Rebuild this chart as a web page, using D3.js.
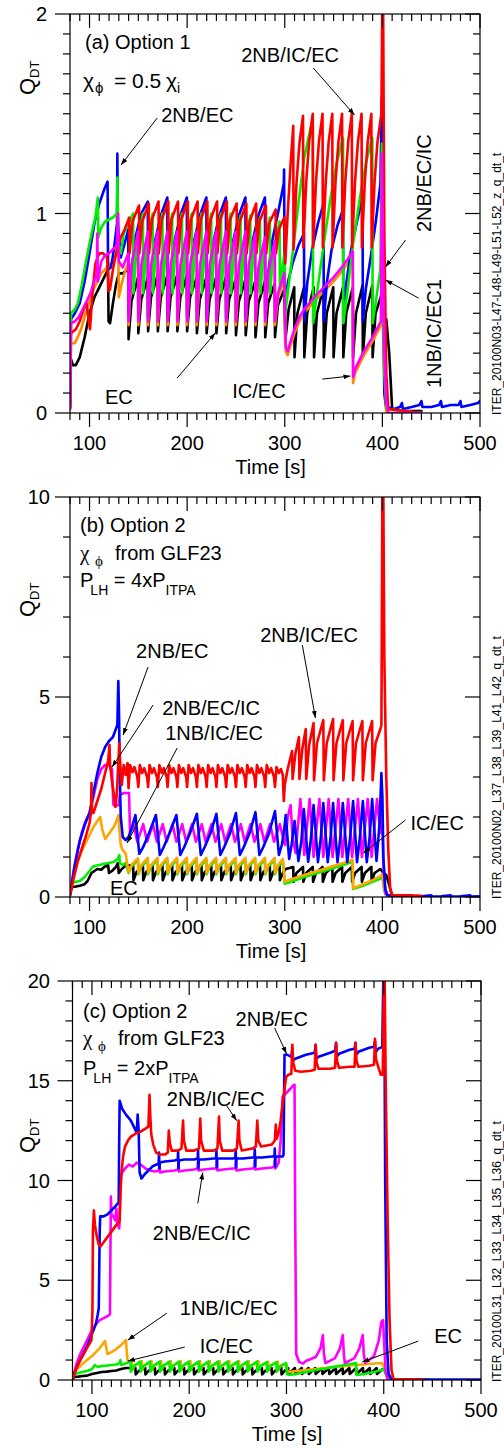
<!DOCTYPE html>
<html><head><meta charset="utf-8">
<script src="https://cdn.jsdelivr.net/npm/d3@7"></script>
<style>
body{margin:0;background:#fff}
svg{display:block}
text{font-family:"Liberation Sans",Arial,Helvetica,sans-serif;fill:#000}
</style></head><body>
<svg id="chart" width="504" height="1448"></svg>
<script>
// ---------------- DATA (time [s], Q_DT) ----------------
const xMajorTicks = [100,200,300,400,500];
const xTickLabels = ["100","200","300","400","500"];
const yTicksA = [0,1,2], yTicksB = [0,5,10], yTicksC = [0,5,10,15,20];

// Panel (a)
const A_black = [[80,0.02],[81,0.27],[83,0.24],[86,0.24],[90,0.28],[95,0.38],[100,0.5],[105,0.58],[110,0.63],[115,0.68],[119,0.72],[119.5,0.46],[121,0.45],[124,0.55],[127,0.64],[130,0.7],[134,0.7],[139.7,0.72],[140,0.37],[143,0.56],[149.7,0.68],[150,0.40],[153,0.57],[159.7,0.68],[160,0.41],[163,0.58],[169.7,0.69],[170,0.41],[173,0.58],[179.7,0.69],[180,0.41],[183,0.58],[189.7,0.69],[190,0.41],[193,0.58],[199.7,0.69],[200,0.41],[203,0.58],[209.7,0.68],[210,0.40],[213,0.57],[219.7,0.68],[220,0.40],[223,0.57],[229.7,0.68],[230,0.40],[233,0.57],[239.7,0.68],[240,0.40],[243,0.57],[249.7,0.67],[250,0.39],[253,0.56],[259.7,0.67],[260,0.39],[263,0.56],[269.7,0.66],[270,0.38],[273,0.55],[279.7,0.66],[280,0.38],[283,0.55],[289.7,0.65],[290,0.38],[293,0.54],[299.5,0.62],[300.5,0.36],[304,0.52],[309.7,0.63],[310,0.28],[313,0.5],[319.7,0.63],[320,0.28],[323,0.5],[329.7,0.63],[330,0.28],[333,0.5],[339.7,0.63],[340,0.28],[343,0.5],[349.7,0.63],[350,0.28],[353,0.5],[359.7,0.63],[360,0.28],[363,0.5],[369.7,0.63],[370,0.28],[373,0.5],[379.7,0.64],[380,0.28],[383,0.5],[389.7,0.64],[390,0.28],[393,0.5],[399.5,0.6],[401,0.47],[404,0.47],[407,0.3],[410,0.02],[420,0.01],[440,0.01]];
const A_orange = [[80,0.02],[81,0.35],[85,0.35],[88,0.38],[92,0.43],[96,0.5],[100,0.56],[104,0.62],[108,0.66],[112,0.7],[116,0.72],[120,0.74],[124,0.76],[128,0.8],[129.5,0.82],[130,0.58],[133,0.65],[137,0.72],[139.7,0.75],[140,0.44],[143,0.7],[149.7,0.87],[150,0.44],[153,0.7],[159.7,0.87],[160,0.44],[163,0.7],[169.7,0.87],[170,0.44],[173,0.7],[179.7,0.87],[180,0.44],[183,0.7],[189.7,0.87],[190,0.44],[193,0.7],[199.7,0.87],[200,0.44],[203,0.7],[209.7,0.87],[210,0.44],[213,0.7],[219.7,0.87],[220,0.44],[223,0.7],[229.7,0.87],[230,0.44],[233,0.7],[239.7,0.87],[240,0.44],[243,0.7],[249.7,0.87],[250,0.44],[253,0.7],[259.7,0.87],[260,0.44],[263,0.7],[269.7,0.87],[270,0.44],[273,0.7],[279.7,0.85],[280,0.44],[283,0.68],[289.7,0.83],[290,0.44],[293,0.58],[299.5,0.67],[301,0.31],[303,0.29],[306,0.34],[310,0.4],[315,0.46],[320,0.5],[330,0.56],[340,0.61],[350,0.66],[360,0.72],[369.7,0.79],[370,0.15],[372,0.2],[380,0.28],[390,0.36],[398.5,0.44],[400,0.6],[402,0.1],[404,0.0],[440,0.0]];
const A_magenta = [[80,0.02],[81,0.45],[85,0.46],[89,0.48],[93,0.52],[97,0.56],[101,0.6],[104,0.65],[107.5,0.7],[108,0.9],[108.5,0.66],[112,0.76],[116,0.79],[120,0.8],[124,0.82],[128,0.84],[129.3,1.0],[130,0.76],[134,0.73],[139.7,0.8],[140,0.46],[143,0.74],[149.7,0.91],[150,0.46],[153,0.74],[159.7,0.91],[160,0.46],[163,0.74],[169.7,0.91],[170,0.46],[173,0.74],[179.7,0.91],[180,0.46],[183,0.74],[189.7,0.91],[190,0.46],[193,0.74],[199.7,0.91],[200,0.46],[203,0.74],[209.7,0.91],[210,0.46],[213,0.74],[219.7,0.91],[220,0.46],[223,0.74],[229.7,0.91],[230,0.46],[233,0.74],[239.7,0.91],[240,0.46],[243,0.74],[249.7,0.91],[250,0.46],[253,0.74],[259.7,0.91],[260,0.46],[263,0.74],[269.7,0.9],[270,0.46],[273,0.73],[279.7,0.88],[280,0.46],[283,0.7],[289.7,0.86],[290,0.46],[293,0.6],[299.5,0.7],[301,0.33],[303,0.31],[306,0.36],[310,0.42],[315,0.48],[320,0.52],[330,0.58],[340,0.63],[350,0.68],[360,0.74],[369.7,0.81],[370,0.18],[372,0.22],[380,0.3],[390,0.38],[398.5,0.46],[399.5,1.3],[400.5,0.9],[402,0.3],[404,0.05],[406,0.0],[440,0.0]];
const A_green = [[80,0.04],[81,0.5],[85,0.52],[88,0.55],[92,0.64],[96,0.75],[100,0.85],[103,0.92],[106,0.98],[108.5,1.08],[109,0.88],[112,0.93],[116,0.96],[120,0.97],[124,0.98],[128,1.0],[128.6,1.18],[129.3,0.85],[132,0.8],[135,0.9],[144.7,1.0],[145,0.6],[148,0.82],[154.7,1.0],[155,0.6],[158,0.82],[164.7,1.0],[165,0.6],[168,0.82],[174.7,1.0],[175,0.6],[178,0.82],[184.7,1.0],[185,0.6],[188,0.82],[194.7,1.0],[195,0.6],[198,0.82],[204.7,1.0],[205,0.6],[208,0.82],[214.7,1.0],[215,0.6],[218,0.82],[224.7,1.0],[225,0.6],[228,0.82],[234.7,1.0],[235,0.6],[238,0.82],[244.7,1.0],[245,0.6],[248,0.82],[254.7,0.99],[255,0.6],[258,0.81],[264.7,0.99],[265,0.6],[268,0.81],[274.7,0.98],[275,0.6],[278,0.8],[284.7,0.98],[285,0.6],[288,0.8],[294.7,0.96],[295,0.62],[298,0.75],[300,0.8],[300.5,0.5],[303,0.6],[308,0.8],[314,1.05],[320,1.28],[328.7,1.48],[329,0.45],[333,0.6],[340,0.85],[347,1.08],[353,1.25],[359.7,1.38],[360,0.45],[364,0.6],[370,0.85],[377,1.08],[383,1.25],[389.7,1.38],[390,0.45],[393,0.55],[398,0.72],[399.6,1.35],[400.5,0.7],[402,0.2],[404,0.02],[440,0.0]];
const A_red = [[80,0.03],[81,0.4],[86,0.42],[90,0.46],[94,0.52],[97,0.55],[99.5,0.45],[100.5,0.42],[103,0.6],[106,0.75],[110,0.8],[114,0.8],[118,0.78],[119.5,0.61],[121,0.62],[124,0.72],[128,0.82],[132,0.88],[136,0.92],[140.7,0.98],[141,0.8],[144,0.96],[150.7,1.04],[151,0.8],[154,0.96],[160.7,1.05],[161,0.8],[164,0.97],[170.7,1.06],[171,0.8],[174,0.97],[180.7,1.06],[181,0.8],[184,0.97],[190.7,1.06],[191,0.8],[194,0.97],[200.7,1.06],[201,0.8],[204,0.97],[210.7,1.06],[211,0.8],[214,0.97],[220.7,1.06],[221,0.8],[224,0.97],[230.7,1.06],[231,0.8],[234,0.97],[240.7,1.06],[241,0.8],[244,0.97],[250.7,1.05],[251,0.8],[254,0.96],[260.7,1.05],[261,0.8],[264,0.96],[270.7,1.05],[271,0.8],[274,0.96],[280.7,1.04],[281,0.8],[284,0.95],[290.7,1.02],[291,0.8],[294,0.92],[299.5,0.98],[300.5,0.75],[303,1.0],[306,1.25],[308.7,1.44],[309,0.82],[312,1.15],[315,1.35],[318.7,1.49],[319,0.83],[322,1.16],[325,1.36],[328.7,1.5],[329,0.83],[332,1.16],[335,1.36],[338.7,1.5],[339,0.83],[342,1.16],[345,1.36],[348.7,1.5],[349,0.83],[352,1.16],[355,1.36],[358.7,1.5],[359,0.83],[362,1.16],[365,1.36],[368.7,1.5],[369,0.83],[372,1.16],[375,1.36],[378.7,1.5],[379,0.83],[382,1.16],[385,1.36],[388.7,1.5],[389,0.83],[392,1.16],[395,1.36],[399,1.5],[399.8,2.0],[400.8,2.0],[402,0.9],[404,0.2],[406,0.02],[440,0.0]];
const A_blue = [[80,0.03],[81,0.47],[85,0.5],[90,0.55],[95,0.66],[100,0.8],[105,0.95],[110,1.05],[115,1.12],[118.5,1.16],[119,0.72],[122,0.73],[125,0.82],[128.2,0.95],[128.5,1.3],[129,0.95],[132,0.78],[136,0.85],[139.7,0.92],[140,0.5],[143,0.72],[147,0.88],[153,1.0],[159.7,1.06],[160,0.48],[163,0.7],[167,0.86],[173,0.99],[179.7,1.08],[180,0.48],[183,0.7],[187,0.86],[193,0.99],[199.7,1.08],[200,0.48],[203,0.7],[207,0.86],[213,0.99],[219.7,1.08],[220,0.48],[223,0.7],[227,0.86],[233,0.99],[239.7,1.08],[240,0.48],[243,0.7],[247,0.86],[253,0.99],[259.7,1.08],[260,0.48],[263,0.7],[267,0.86],[273,0.99],[279.7,1.08],[280,0.48],[283,0.7],[287,0.86],[293,1.0],[299,1.15],[299.3,1.22],[300,0.55],[303,0.65],[308,0.75],[314,0.84],[319.7,0.9],[320,0.46],[323,0.65],[328,0.82],[334,0.95],[339.7,1.05],[340,0.46],[343,0.65],[348,0.82],[354,0.94],[359.7,1.02],[360,0.46],[363,0.65],[368,0.82],[374,0.96],[379.7,1.08],[380,0.46],[383,0.62],[388,0.78],[393,0.95],[398,1.15],[399.5,1.58],[400.5,1.0],[402,0.1],[404,0.03],[412,0.02],[418,0.03],[420,0.05],[421,0.02],[430,0.03],[438,0.04],[440,0.06],[441,0.03],[450,0.03],[458,0.04],[460,0.06],[461,0.03],[470,0.04],[478,0.04],[480,0.06],[481,0.03],[490,0.04],[498,0.05],[500,0.06]];

// Panel (b)
const B_black = [[80,0.05],[82,0.25],[86,0.26],[90,0.28],[95,0.32],[98,0.4],[100,0.5],[102,0.6],[105,0.65],[108,0.7],[112,0.68],[115,0.75],[119,0.8],[120,0.6],[123,0.65],[127,0.75],[129,0.85],[130,0.6],[133,0.7],[137,0.78],[144.7,0.8],[145,0.42],[148,0.62],[154.7,0.78],[155,0.42],[158,0.62],[164.7,0.78],[165,0.42],[168,0.62],[174.7,0.78],[175,0.42],[178,0.62],[184.7,0.78],[185,0.42],[188,0.62],[194.7,0.78],[195,0.42],[198,0.62],[204.7,0.78],[205,0.42],[208,0.62],[214.7,0.78],[215,0.42],[218,0.62],[224.7,0.78],[225,0.42],[228,0.62],[234.7,0.78],[235,0.42],[238,0.62],[244.7,0.78],[245,0.42],[248,0.62],[254.7,0.78],[255,0.42],[258,0.62],[264.7,0.78],[265,0.42],[268,0.62],[274.7,0.78],[275,0.42],[278,0.62],[284.7,0.78],[285,0.42],[288,0.62],[294.7,0.78],[295,0.42],[298,0.6],[301,0.7],[308.7,0.75],[309,0.38],[312,0.6],[318.7,0.75],[319,0.38],[322,0.6],[328.7,0.75],[329,0.38],[332,0.6],[338.7,0.75],[339,0.38],[342,0.6],[348.7,0.75],[349,0.38],[352,0.6],[358.7,0.75],[359,0.38],[362,0.6],[368.7,0.75],[369,0.38],[372,0.6],[378.7,0.75],[379,0.38],[382,0.6],[388.7,0.75],[389,0.38],[392,0.6],[398,0.7],[401,0.6],[404,0.55],[407,0.3],[410,0.03],[440,0.02]];
const B_green = [[80,0.05],[82,0.35],[86,0.38],[90,0.4],[95,0.5],[100,0.65],[103,0.75],[106,0.78],[110,0.8],[115,0.83],[120,0.85],[125,0.88],[129,0.95],[130.5,1.05],[131,0.85],[134,0.8],[137,0.85],[140,0.6],[143,0.76],[149.7,0.93],[150,0.57],[153,0.76],[159.7,0.93],[160,0.57],[163,0.76],[169.7,0.93],[170,0.57],[173,0.76],[179.7,0.93],[180,0.57],[183,0.76],[189.7,0.93],[190,0.57],[193,0.76],[199.7,0.93],[200,0.57],[203,0.76],[209.7,0.93],[210,0.57],[213,0.76],[219.7,0.93],[220,0.57],[223,0.76],[229.7,0.93],[230,0.57],[233,0.76],[239.7,0.93],[240,0.57],[243,0.76],[249.7,0.93],[250,0.57],[253,0.76],[259.7,0.93],[260,0.57],[263,0.76],[269.7,0.93],[270,0.57],[273,0.76],[279.7,0.93],[280,0.57],[283,0.76],[289.7,0.93],[290,0.57],[293,0.76],[298,0.9],[299,0.65],[300,0.33],[305,0.37],[320,0.5],[340,0.65],[360,0.8],[369.5,0.88],[370,0.2],[380,0.28],[390,0.38],[398,0.46],[400,0.5],[402,0.15],[404,0.03],[440,0.02]];
const B_orange = [[80,0.05],[84,0.5],[88,0.9],[92,1.15],[96,1.35],[100,1.55],[104,1.75],[108,1.9],[110.8,2.0],[113,1.7],[116,1.45],[119,1.55],[122,1.65],[126,1.8],[129.8,2.05],[130.5,1.7],[132,1.3],[134,1.17],[137,1.09],[138.5,0.85],[140,0.62],[143,0.8],[149.7,0.97],[150,0.6],[153,0.8],[159.7,0.98],[160,0.6],[163,0.8],[169.7,0.98],[170,0.6],[173,0.8],[179.7,0.98],[180,0.6],[183,0.8],[189.7,0.98],[190,0.6],[193,0.8],[199.7,0.98],[200,0.6],[203,0.8],[209.7,0.98],[210,0.6],[213,0.8],[219.7,0.98],[220,0.6],[223,0.8],[229.7,0.98],[230,0.6],[233,0.8],[239.7,0.98],[240,0.6],[243,0.8],[249.7,0.98],[250,0.6],[253,0.8],[259.7,0.98],[260,0.6],[263,0.8],[269.7,0.98],[270,0.6],[273,0.8],[279.7,0.98],[280,0.6],[283,0.8],[289.7,0.98],[290,0.6],[293,0.8],[298,0.95],[299,0.7],[300,0.38],[305,0.43],[320,0.55],[340,0.7],[360,0.85],[369.5,0.93],[370,0.22],[380,0.32],[390,0.42],[398,0.52],[400,0.58],[402,0.2],[404,0.05],[410,0.02],[450,0.02]];
const B_magenta = [[80,0.05],[84,0.7],[88,1.2],[92,1.6],[96,1.9],[100,2.1],[104,2.5],[108,2.95],[112,3.2],[116,3.3],[120,3.3],[123,3.2],[124.5,2.3],[127,2.28],[130,2.3],[131,2.55],[135,2.6],[140.5,2.6],[141.5,1.6],[145,1.82],[149,1.38],[155,1.82],[159,1.38],[165,1.82],[169,1.38],[175,1.82],[179,1.38],[185,1.82],[189,1.38],[195,1.82],[199,1.38],[205,1.82],[209,1.38],[215,1.82],[219,1.38],[225,1.82],[229,1.38],[235,1.82],[239,1.38],[245,1.82],[249,1.38],[255,1.82],[259,1.38],[265,1.82],[269,1.38],[275,1.82],[279,1.38],[285,1.82],[289,1.38],[295,1.82],[299,1.4],[300.5,1.3],[303,2.0],[306,2.3],[308,1.5],[311,1.1],[316,2.45],[320,1.05],[325.5,2.45],[329.5,1.0],[335.5,2.45],[339.5,1.0],[345,2.45],[349,1.0],[355,2.45],[359,1.0],[365,2.45],[369,1.0],[375,2.45],[379,1.0],[385,2.45],[389,1.0],[394.5,2.45],[398,1.6],[399.5,2.4],[401,0.8],[403,0.1],[405,0.03],[440,0.02]];
const B_blue = [[80,0.05],[85,0.8],[90,1.4],[95,1.8],[100,2.1],[104,2.6],[108,3.1],[112,3.5],[116,3.75],[120,3.9],[124,4.0],[127,4.2],[128.5,4.3],[129.5,5.4],[130.3,4.5],[131,3.0],[132,2.0],[134,1.5],[137,1.42],[140,1.5],[143,1.7],[147,2.05],[151,1.08],[155,1.25],[161,1.6],[168,2.05],[172,1.05],[176,1.25],[182,1.6],[189,2.05],[193,1.05],[197,1.25],[203,1.6],[210,2.08],[214,1.05],[218,1.25],[224,1.6],[230,2.08],[234,1.05],[238,1.25],[244,1.6],[250,2.1],[254,1.05],[258,1.25],[264,1.6],[270,2.12],[274,1.05],[278,1.25],[284,1.6],[290,2.15],[294,1.05],[297,1.3],[299,1.6],[301,2.05],[304.5,0.95],[307,1.3],[310,1.9],[314,0.9],[317,1.4],[319.5,2.2],[324,0.88],[327,1.5],[329.5,2.3],[334,0.87],[337,1.5],[339.5,2.35],[344,0.87],[347,1.5],[349.5,2.35],[354,0.87],[357,1.5],[359.5,2.35],[364,0.87],[367,1.5],[370,2.4],[374,0.87],[377,1.5],[380,2.4],[384,0.87],[387,1.5],[389.5,2.45],[394,0.9],[397,1.8],[399,3.1],[400,2.5],[401,1.0],[403,0.2],[405,0.05],[410,0.03],[420,0.02],[430,0.04],[431,0.01],[440,0.02],[450,0.04],[451,0.01],[460,0.02],[470,0.04],[471,0.01],[480,0.02],[490,0.04],[491,0.01],[500,0.02]];
const B_red = [[80,0.05],[84,0.5],[88,0.9],[92,1.2],[96,1.5],[100,1.85],[101.5,2.1],[102,2.85],[102.5,2.2],[104,2.1],[108,2.4],[112,2.7],[116,3.1],[119,3.4],[120.5,3.8],[121,3.3],[123,2.9],[125,2.55],[126.5,2.25],[128,2.6],[130.5,3.85],[131.5,3.3],[133,2.8],[135,3.3],[137,3.05],[139,3.35],[140,2.72],[141.5,3.3],[144,3.12],[146,3.25],[149,3.0],[150,2.75],[151.5,3.3],[154,3.1],[156,3.22],[159,3.0],[160,2.75],[161.5,3.3],[164,3.1],[166,3.22],[169,3.0],[170,2.75],[171.5,3.3],[174,3.1],[176,3.22],[179,3.0],[180,2.75],[181.5,3.3],[184,3.1],[186,3.22],[189,3.0],[190,2.75],[191.5,3.3],[194,3.1],[196,3.22],[199,3.0],[200,2.75],[201.5,3.3],[204,3.1],[206,3.22],[209,3.0],[210,2.75],[211.5,3.3],[214,3.1],[216,3.22],[219,3.0],[220,2.75],[221.5,3.3],[224,3.1],[226,3.22],[229,3.0],[230,2.75],[231.5,3.3],[234,3.1],[236,3.22],[239,3.0],[240,2.75],[241.5,3.3],[244,3.1],[246,3.22],[249,3.0],[250,2.75],[251.5,3.3],[254,3.1],[256,3.22],[259,3.0],[260,2.75],[261.5,3.3],[264,3.1],[266,3.22],[269,3.0],[270,2.75],[271.5,3.3],[274,3.1],[276,3.22],[279,3.0],[280,2.75],[281.5,3.3],[284,3.1],[286,3.22],[289,3.0],[290,2.75],[291.5,3.25],[294,3.1],[296,3.2],[298,3.05],[299,2.4],[300,2.8],[303,3.2],[306,3.5],[307.5,3.65],[308,2.95],[311,3.6],[314.5,4.0],[315,2.95],[318,3.7],[321.5,4.2],[322,2.95],[325,3.8],[329.5,4.35],[330,2.92],[333,3.85],[339.5,4.42],[340,2.92],[343,3.85],[349.5,4.45],[350,2.92],[353,3.85],[359.5,4.42],[360,2.92],[363,3.85],[369.5,4.4],[370,2.92],[373,3.85],[379.5,4.4],[380,2.92],[383,3.85],[389.5,4.4],[390,2.92],[393,3.85],[398,4.2],[399,4.3],[400,10],[401,10],[402,6],[404,3],[406,1.2],[408,0.2],[410,0.05],[440,0.03]];

// Panel (c)
const C_black = [[80,0.05],[82,0.15],[86,0.17],[90,0.2],[95,0.22],[100,0.3],[105,0.35],[110,0.4],[115,0.42],[120,0.45],[125,0.48],[130,0.55],[135,0.6],[144.7,0.6],[145,0.28],[148,0.45],[154.7,0.6],[155,0.28],[158,0.45],[164.7,0.6],[165,0.28],[168,0.45],[174.7,0.6],[175,0.28],[178,0.45],[184.7,0.6],[185,0.28],[188,0.45],[194.7,0.6],[195,0.28],[198,0.45],[204.7,0.6],[205,0.28],[208,0.45],[214.7,0.6],[215,0.28],[218,0.45],[224.7,0.6],[225,0.28],[228,0.45],[234.7,0.6],[235,0.28],[238,0.45],[244.7,0.6],[245,0.28],[248,0.45],[254.7,0.6],[255,0.28],[258,0.45],[264.7,0.6],[265,0.28],[268,0.45],[274.7,0.6],[275,0.28],[278,0.45],[284.7,0.6],[285,0.28],[288,0.45],[294.7,0.6],[295,0.28],[298,0.45],[301.7,0.6],[302,0.3],[308.7,0.6],[309,0.3],[315.7,0.6],[316,0.3],[322.7,0.6],[323,0.3],[329.7,0.6],[330,0.3],[336.7,0.6],[337,0.3],[343.7,0.6],[344,0.3],[350.7,0.6],[351,0.3],[357.7,0.6],[358,0.3],[364.7,0.6],[365,0.3],[371.7,0.6],[372,0.3],[378.7,0.6],[379,0.3],[385.7,0.6],[386,0.3],[392.7,0.6],[393,0.3],[399,0.55],[402,0.45],[405,0.2],[408,0.03],[445,0.02]];
const C_orange = [[80,0.05],[82,0.4],[86,0.6],[90,0.8],[95,1.0],[100,1.2],[104,1.4],[108,1.6],[111,1.8],[113.4,1.95],[116,1.3],[120,1.4],[125,1.55],[130,1.75],[134.9,2.0],[136.5,1.0],[138,0.9],[141.2,0.95],[141.5,0.5],[144,0.72],[151.2,0.95],[151.5,0.5],[154,0.72],[161.2,0.95],[161.5,0.5],[164,0.72],[171.2,0.95],[171.5,0.5],[174,0.72],[181.2,0.95],[181.5,0.5],[184,0.72],[191.2,0.95],[191.5,0.5],[194,0.72],[201.2,0.95],[201.5,0.5],[204,0.72],[211.2,0.95],[211.5,0.5],[214,0.72],[221.2,0.95],[221.5,0.5],[224,0.72],[231.2,0.95],[231.5,0.5],[234,0.72],[241.2,0.95],[241.5,0.5],[244,0.72],[251.2,0.95],[251.5,0.5],[254,0.72],[261.2,0.95],[261.5,0.5],[264,0.72],[271.2,0.95],[271.5,0.5],[274,0.72],[281.2,0.92],[281.5,0.5],[284,0.72],[291.2,0.92],[291.5,0.5],[294,0.7],[300,0.8],[301,0.4],[310,0.45],[320,0.5],[340,0.6],[360,0.7],[372,0.75],[385,0.8],[398,0.85],[401,0.6],[404,0.05],[445,0.02]];
const C_green = [[80,0.05],[82,0.3],[86,0.35],[90,0.4],[95,0.45],[100,0.55],[103,0.75],[106,0.65],[110,0.7],[115,0.72],[120,0.75],[125,0.78],[128.5,0.85],[129.3,1.0],[130,0.75],[133,0.8],[139.7,0.92],[140,0.42],[143,0.7],[149.7,0.92],[150,0.42],[153,0.7],[159.7,0.92],[160,0.42],[163,0.7],[169.7,0.92],[170,0.42],[173,0.7],[179.7,0.92],[180,0.42],[183,0.7],[189.7,0.92],[190,0.42],[193,0.7],[199.7,0.92],[200,0.42],[203,0.7],[209.7,0.92],[210,0.42],[213,0.7],[219.7,0.92],[220,0.42],[223,0.7],[229.7,0.92],[230,0.42],[233,0.7],[239.7,0.92],[240,0.42],[243,0.7],[249.7,0.92],[250,0.42],[253,0.7],[259.7,0.92],[260,0.42],[263,0.7],[269.7,0.92],[270,0.42],[273,0.7],[279.7,0.9],[280,0.42],[283,0.7],[289.7,0.9],[290,0.42],[293,0.68],[299.5,0.85],[300.5,0.3],[303,0.25],[310,0.3],[320,0.4],[330,0.5],[340,0.58],[350,0.67],[360,0.75],[371.5,0.85],[372,0.25],[380,0.3],[390,0.4],[398,0.5],[400,0.55],[402,0.3],[404,0.05],[445,0.02]];
const C_magenta = [[80,0.05],[84,0.8],[88,1.3],[92,1.7],[96,2.1],[100,2.5],[104,2.8],[108,3.0],[112,3.1],[116,3.2],[118.5,3.3],[119,6.5],[119.5,9.2],[120,8.3],[122,8.2],[124,8.0],[125,8.6],[126,7.9],[128,7.6],[128.5,8.0],[129,10.0],[131,10.4],[134,10.6],[138,10.8],[142,10.7],[146,10.9],[150,10.8],[155,10.6],[160,10.5],[165,10.45],[169,10.5],[169.5,10.9],[170,10.4],[175,10.45],[185,10.5],[188.5,10.55],[189,10.9],[189.5,10.45],[195,10.5],[205,10.55],[208.5,10.6],[209,10.95],[209.5,10.5],[215,10.55],[225,10.6],[228,10.6],[228.5,10.95],[229,10.5],[235,10.55],[245,10.6],[247.5,10.6],[248,10.95],[248.5,10.5],[255,10.55],[265,10.6],[267,10.65],[267.5,11.0],[268,10.55],[275,10.6],[285,10.65],[287.5,10.7],[288,11.0],[288.5,10.6],[292,10.9],[294,12.0],[296,14.2],[300,14.4],[304,14.6],[307.5,14.8],[308.3,14.8],[309,8],[310,1.3],[313,0.9],[317,0.83],[320,0.95],[330,1.15],[335,1.6],[337.4,2.25],[338.5,1.3],[340,0.85],[350,1.1],[355,1.6],[357.9,2.25],[359,1.3],[360,0.85],[370,1.1],[375,1.6],[378.4,2.25],[379.5,1.3],[381,0.85],[390,1.2],[395,2.0],[397.5,2.9],[399.3,3.0],[400.5,1.8],[402,0.4],[404,0.05],[440,0.02]];
const C_blue = [[80,0.05],[84,0.6],[88,1.0],[92,1.4],[96,1.8],[100,2.3],[104,2.8],[106,3.3],[107,3.6],[108,7.5],[108.5,8.2],[112,8.2],[116,8.3],[120,8.5],[124,8.7],[127.5,8.9],[128,12],[128.5,14.0],[131,13.6],[135,13.3],[140,13.0],[144,12.6],[146,12.4],[147,13.3],[148,12.5],[149,10.4],[151,10.1],[154,10.3],[158,10.5],[162,10.7],[168.5,10.85],[169,11.4],[169.4,10.6],[169.8,10.9],[175,10.95],[185,11.0],[188.2,11.05],[188.6,11.45],[189,10.6],[189.4,11.0],[195,11.05],[205,11.05],[208.7,11.1],[209.1,11.5],[209.5,10.6],[209.9,11.05],[215,11.05],[225,11.1],[227.6,11.1],[228,11.5],[228.4,10.65],[228.8,11.1],[235,11.1],[245,11.1],[247.4,11.15],[247.8,11.55],[248.2,10.65],[248.6,11.1],[255,11.1],[265,11.15],[267,11.15],[267.4,11.55],[267.8,10.7],[268.2,11.15],[275,11.15],[285,11.2],[287.6,11.2],[288,11.6],[288.4,10.7],[288.8,11.2],[296,11.2],[297,11.3],[297.5,14],[298,16.3],[301,16.3],[305,16.2],[306,16.6],[306.5,16.0],[309,16.1],[320,16.3],[329,16.4],[330,16.8],[330.5,16.1],[333,16.2],[345,16.4],[350,16.5],[351,16.9],[351.5,16.2],[354,16.35],[365,16.55],[370,16.6],[371,16.9],[371.5,16.3],[374,16.45],[385,16.65],[390,16.7],[391,17.0],[391.5,16.4],[394,16.6],[398.5,16.7],[399.5,20],[400.5,20],[401.5,10],[403,2],[405,0.3],[408,0.05],[420,0.02],[500,0.02]];
const C_red = [[80,0.05],[84,0.6],[88,1.0],[92,1.35],[96,1.7],[99.5,2.0],[100.5,3.5],[101,7.5],[102,8.5],[103,7.8],[105,7.2],[107,6.8],[109,6.7],[112,6.9],[115,7.1],[118,7.3],[121,7.5],[124,7.7],[127,7.9],[128.5,8.0],[129.5,9.5],[130.5,10.5],[132,11.2],[134,11.7],[137,12.0],[140,12.2],[145,12.35],[150,12.45],[155,12.6],[158,12.7],[159.2,14.3],[160,13.2],[161,12.3],[163,11.8],[166,11.4],[170,11.3],[175,11.3],[178,11.4],[179,12.5],[180,11.9],[182,11.5],[188,11.5],[192,11.6],[193.7,13.0],[194.5,12.0],[197,11.5],[205,11.5],[210,11.6],[211.4,13.1],[212.2,12.0],[215,11.5],[225,11.5],[229,11.6],[230.6,13.2],[231.4,12.0],[234,11.5],[245,11.5],[249,11.6],[250.8,13.0],[251.6,12.0],[254,11.5],[265,11.6],[268.5,11.7],[270,13.0],[271,12.0],[274,11.7],[285,11.8],[288,12.0],[289,12.8],[290,12.1],[292,12.4],[294,13.0],[296,13.8],[298,14.6],[299.7,15.2],[302,15.3],[305,15.35],[306,16.8],[307,15.9],[309,15.5],[315,15.45],[325,15.5],[329,15.55],[330,16.8],[331,15.9],[333,15.6],[345,15.6],[350,15.65],[351,16.9],[352,16.0],[354,15.65],[365,15.7],[370,15.7],[371,16.9],[372,16.0],[374,15.7],[385,15.75],[390,15.8],[391,17.1],[392,16.1],[395,15.6],[397,15.3],[399,15.3],[400.2,20],[401,20],[402,15],[404,8],[406,3],[408,0.5],[410,0.05],[440,0.02]];

// Annotations (positions in data units)
const A_notes = [
  {text:"2NB/IC/EC", t:255.4, q:1.759},
  {text:"2NB/EC", t:173.4, q:1.459},
  {text:"2NB/EC/IC", t:449.3, q:0.907, rot:true},
  {text:"1NB/IC/EC1", t:459.6, q:0.125, rot:true},
  {text:"EC", t:115.9, q:0.045},
  {text:"IC/EC", t:246.2, q:0.075}
];
const A_arrows = [[[329.3,1.729],[371.4,1.494]],[[169.3,1.479],[132.3,1.243]],[[423.7,0.867],[403.2,0.732]],[[437.0,0.576],[403.2,0.667]],[[189.8,0.175],[228.8,0.401]],[[338.5,0.170],[367.3,0.185]]];
const B_notes = [
  {text:"2NB/IC/EC", t:274.9, q:6.375},
  {text:"2NB/EC", t:147.7, q:5.975},
  {text:"2NB/EC/IC", t:174.4, q:4.55},
  {text:"1NB/IC/EC", t:177.5, q:3.925},
  {text:"IC/EC", t:428.8, q:1.675},
  {text:"EC", t:121.0, q:0.05}
];
const B_arrows = [[[318.0,6.3],[331.4,4.475]],[[160.0,5.75],[134.4,4.05]],[[165.2,4.8],[123.1,3.25]],[[189.8,3.725],[138.5,1.35]],[[423.7,1.925],[380.6,1.1]]];
const C_notes = [
  {text:"2NB/EC", t:247.7, q:17.75},
  {text:"2NB/IC/EC", t:177.0, q:13.75},
  {text:"2NB/EC/IC", t:162.6, q:7.0},
  {text:"1NB/IC/EC", t:190.3, q:3.25},
  {text:"IC/EC", t:210.8, q:1.35},
  {text:"EC", t:451.9, q:1.85}
];
const C_arrows = [[[287.8,17.65],[300.1,16.35]],[[238.5,13.75],[248.8,13.0]],[[208.8,8.85],[213.9,10.4]],[[177.0,3.35],[136.9,2.0]],[[195.4,1.65],[136.9,0.95]],[[435.5,1.95],[378.0,0.9]]];

const fileNames = ["ITER_20100N03-L47-L48-L49-L51-L52_z_q_dt_t","ITER_20100N02_L37_L38_L39_L41_L42_q_dt_t","ITER_20100L31_L32_L33_L34_L35_L36_q_dt_t"];

// ---------------- LAYOUT ----------------
const COL = {black:"#000000", orange:"#ff8a00", orange2:"#ffa500", green:"#00ee00", magenta:"#ff00ff", blue:"#0000ff", red:"#ff0000"};
const panels = [
  {x0:70, x1:480, yb:413, yt:14, ymax:2, yticks:yTicksA, ystep:0.1, lblX:47,
   series:[[A_black,COL.black],[A_orange,COL.orange],[A_blue,COL.blue],[A_green,COL.green],[A_red,COL.red],[A_magenta,COL.magenta]],
   notes:A_notes, arrows:A_arrows, file:fileNames[0], qy:95, timeX:270.5,
   title:"(a) Option 1", titleT:95.4, titleQ:1.825},
  {x0:70, x1:480, yb:897, yt:497, ymax:10, yticks:yTicksB, ystep:1, lblX:50,
   series:[[B_black,COL.black],[B_green,COL.green],[B_orange,COL.orange2],[B_magenta,COL.magenta],[B_blue,COL.blue],[B_red,COL.red]],
   notes:B_notes, arrows:B_arrows, file:fileNames[1], qy:617, timeX:271,
   title:"(b) Option 2", titleT:90.3, titleQ:9.125},
  {x0:72.5, x1:481, yb:1380, yt:981, ymax:20, yticks:yTicksC, ystep:1, lblX:50,
   series:[[C_black,COL.black],[C_orange,COL.orange2],[C_green,COL.green],[C_magenta,COL.magenta],[C_blue,COL.blue],[C_red,COL.red]],
   notes:C_notes, arrows:C_arrows, file:fileNames[2], qy:1153, timeX:287,
   title:"(c) Option 2", titleT:90.8, titleQ:18.15}
];

const svg = d3.select("#chart");
const defs = svg.append("defs");
defs.append("marker").attr("id","ah").attr("viewBox","0 0 10 10").attr("refX",10).attr("refY",5)
  .attr("markerWidth",7).attr("markerHeight",7).attr("orient","auto")
  .append("path").attr("d","M0,1.5 L10,5 L0,8.5 z").attr("fill","#000");

const SERIF = "'Liberation Serif','DejaVu Serif',serif";

panels.forEach((P,i)=>{
  const x = d3.scaleLinear().domain([80,500]).range([P.x0,P.x1]);
  const y = d3.scaleLinear().domain([0,P.ymax]).range([P.yb,P.yt]);
  const g = svg.append("g");
  defs.append("clipPath").attr("id","clip"+i).append("rect")
    .attr("x",P.x0).attr("y",P.yt).attr("width",P.x1-P.x0).attr("height",P.yb-P.yt);

  // data lines
  const line = d3.line().x(d=>x(d[0])).y(d=>y(d[1]));
  const lg = g.append("g").attr("clip-path","url(#clip"+i+")");
  P.series.forEach(([data,col])=>{
    lg.append("path").attr("d",line(data)).attr("fill","none").attr("stroke",col)
      .attr("stroke-width",2.6).attr("stroke-linejoin","round").attr("stroke-linecap","round");
  });

  // frame
  g.append("rect").attr("x",P.x0).attr("y",P.yt).attr("width",P.x1-P.x0).attr("height",P.yb-P.yt)
    .attr("fill","none").attr("stroke","#000").attr("stroke-width",1.2);

  // x ticks
  const xt = d3.range(80,501,10);
  xt.forEach(v=>{
    const major = xMajorTicks.includes(v);
    const L = major?14:7;
    g.append("line").attr("x1",x(v)).attr("x2",x(v)).attr("y1",P.yb).attr("y2",P.yb+L).attr("stroke","#000").attr("stroke-width",1.2);
    g.append("line").attr("x1",x(v)).attr("x2",x(v)).attr("y1",P.yt).attr("y2",P.yt+L).attr("stroke","#000").attr("stroke-width",1.2);
  });
  xMajorTicks.forEach((v,k)=>{
    g.append("text").attr("x",x(v)).attr("y",P.yb+37).attr("text-anchor","middle").attr("font-size",20).text(xTickLabels[k]);
  });
  g.append("text").attr("x",P.timeX).attr("y",P.yb+61).attr("text-anchor","middle").attr("font-size",20).text("Time [s]");

  // y ticks
  const n = Math.round(P.ymax/P.ystep);
  for(let k=0;k<=n;k++){
    const v = k*P.ystep;
    const major = P.yticks.some(t=>Math.abs(t-v)<1e-9);
    const L = major?15:7;
    g.append("line").attr("x1",P.x0-L).attr("x2",P.x0).attr("y1",y(v)).attr("y2",y(v)).attr("stroke","#000").attr("stroke-width",1.2);
    g.append("line").attr("x1",P.x1-L).attr("x2",P.x1).attr("y1",y(v)).attr("y2",y(v)).attr("stroke","#000").attr("stroke-width",1.2);
  }
  P.yticks.forEach(v=>{
    g.append("text").attr("x",P.lblX).attr("y",y(v)).attr("dy","0.36em").attr("text-anchor","end").attr("font-size",20).text(String(v));
  });

  // Q_DT label
  const q = g.append("text").attr("transform",`translate(35,${P.qy}) rotate(-90)`).attr("font-size",22);
  q.append("tspan").text("Q");
  q.append("tspan").attr("font-size",13).attr("dy",4).text("DT");

  // file name
  g.append("text").attr("transform",`translate(501,${P.yb+2}) rotate(-90)`).attr("font-size",12).text(P.file);

  // title
  g.append("text").attr("x",x(P.titleT)).attr("y",y(P.titleQ)).attr("font-size",20).text(P.title);

  // notes
  P.notes.forEach(nt=>{
    const t = g.append("text").attr("font-size",20).text(nt.text);
    if(nt.rot) t.attr("transform",`translate(${x(nt.t)},${y(nt.q)}) rotate(-90)`);
    else t.attr("x",x(nt.t)).attr("y",y(nt.q));
  });
  P.arrows.forEach(([a,b])=>{
    g.append("line").attr("x1",x(a[0])).attr("y1",y(a[1])).attr("x2",x(b[0])).attr("y2",y(b[1]))
      .attr("stroke","#000").attr("stroke-width",1).attr("marker-end","url(#ah)");
  });

  // formula lines
  if(i===0){
    const ft = g.append("text").attr("y",88).attr("font-family",SERIF).attr("font-size",21);
    ft.append("tspan").attr("x",83).text("χ");
    ft.append("tspan").attr("x",95).attr("font-size",15).attr("dy",5).text("ϕ");
    ft.append("tspan").attr("x",114).attr("dy",-5).text("= 0.5");
    ft.append("tspan").attr("x",166).text("χ");
    ft.append("tspan").attr("x",177).attr("font-size",14).attr("dy",5).text("i");
  } else {
    const bx = i===1?80:83, by = i===1?560:1045, py = i===1?587:1075;
    const ft = g.append("text").attr("y",by).attr("font-size",20);
    ft.append("tspan").attr("x",bx).attr("font-family",SERIF).attr("font-size",21).text("χ");
    ft.append("tspan").attr("x",bx+15).attr("font-family",SERIF).attr("font-size",15).attr("dy",6).text("ϕ");
    ft.append("tspan").attr("x",bx+35).attr("dy",-6).text("from GLF23");
    const pt = g.append("text").attr("x",bx).attr("y",py).attr("font-size",20);
    pt.append("tspan").text("P");
    pt.append("tspan").attr("font-size",14).attr("dy",8).attr("dx",-3).text("LH");
    pt.append("tspan").attr("dy",-8).text(i===1?" = 4xP":" = 2xP");
    pt.append("tspan").attr("font-size",14).attr("dy",8).text("ITPA");
  }
});
</script>
</body></html>
